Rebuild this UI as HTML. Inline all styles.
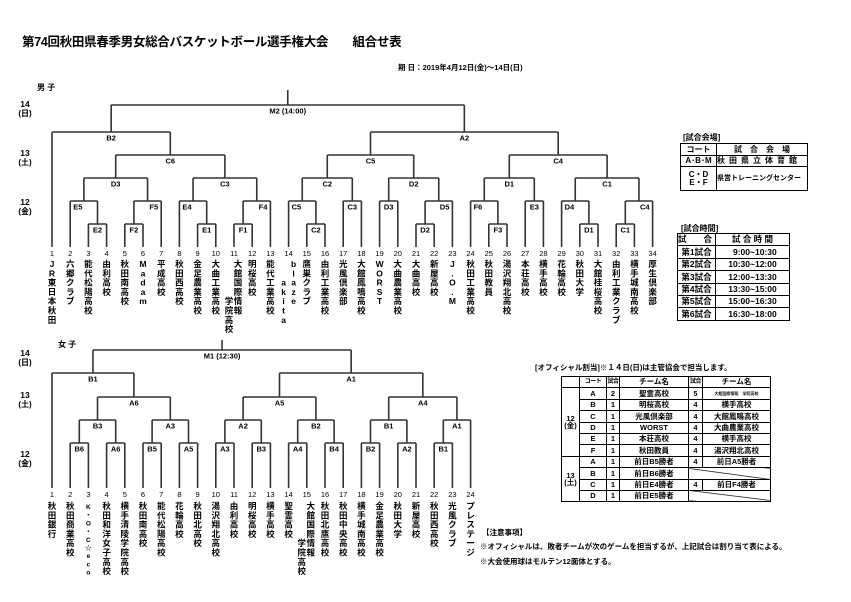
<!DOCTYPE html>
<html><head><meta charset="utf-8">
<style>
body{margin:0;background:#fff;}
#wrap{position:relative;width:851px;height:602px;overflow:hidden;font-family:"Liberation Sans","Noto Sans CJK JP",sans-serif;color:#000;}
.abs{position:absolute;white-space:nowrap;}
table{border-collapse:collapse;position:absolute;font-size:8px;font-weight:bold;table-layout:fixed;}
td{border:1px solid #000;padding:0;text-align:center;line-height:1;overflow:hidden;white-space:nowrap;}
.sm{font-size:6px;letter-spacing:-0.5px;}
.diag{background:linear-gradient(to top right,transparent calc(50% - 0.7px),#000 50%,transparent calc(50% + 0.7px));}
</style></head><body>
<div id="wrap">
<div class="abs" style="left:22px;top:31px;font-size:12.5px;font-weight:bold;letter-spacing:-0.3px;">第74回秋田県春季男女総合バスケットボール選手権大会　　組合せ表</div>
<div class="abs" style="left:398px;top:62px;font-size:7.5px;font-weight:bold;">期 日：2019年4月12日(金)～14日(日)</div>
<div class="abs" style="left:37px;top:82px;font-size:8px;font-weight:bold;">男 子</div>
<div class="abs" style="left:58px;top:339px;font-size:8px;font-weight:bold;">女 子</div>

<div class="abs" style="left:683px;top:132px;font-size:8px;font-weight:bold;">[試合会場]</div>
<table style="left:680px;top:143px;width:127px;">
<colgroup><col style="width:36px"><col style="width:91px"></colgroup>
<tr style="height:12px"><td>コート</td><td>試　合　会　場</td></tr>
<tr style="height:11px"><td>A･B･M</td><td style="text-align:left;letter-spacing:4px;">秋田県立体育館</td></tr>
<tr style="height:24px"><td>C・D<br>E・F</td><td style="text-align:left;font-size:7px;">県営トレーニングセンター</td></tr>
</table>

<div class="abs" style="left:681px;top:223px;font-size:8px;font-weight:bold;">[試合時間]</div>
<table style="left:677px;top:233px;width:112px;font-size:8.5px;">
<colgroup><col style="width:38px"><col style="width:74px"></colgroup>
<tr style="height:12.4px"><td style="text-align:left">試　　合</td><td>試 合 時 間</td></tr>
<tr style="height:12.4px"><td>第1試合</td><td>&nbsp;&nbsp;9:00~10:30</td></tr>
<tr style="height:12.4px"><td>第2試合</td><td>10:30~12:00</td></tr>
<tr style="height:12.4px"><td>第3試合</td><td>12:00~13:30</td></tr>
<tr style="height:12.4px"><td>第4試合</td><td>13:30~15:00</td></tr>
<tr style="height:12.4px"><td>第5試合</td><td>15:00~16:30</td></tr>
<tr style="height:12.4px"><td>第6試合</td><td>16:30~18:00</td></tr>
</table>

<div class="abs" style="left:535px;top:362px;font-size:7.5px;font-weight:bold;">[オフィシャル割当]※１４日(日)は主管協会で担当します。</div>
<table style="left:561px;top:376px;width:209px;font-size:7.5px;">
<colgroup><col style="width:18px"><col style="width:27px"><col style="width:13px"><col style="width:69px"><col style="width:14px"><col style="width:68px"></colgroup>
<tr style="height:11.4px"><td></td><td class="sm">コート</td><td class="sm">試合</td><td>チーム名</td><td class="sm">試合</td><td>チーム名</td></tr>
<tr style="height:11.4px"><td rowspan="6">12<br>(金)</td><td>A</td><td>2</td><td>聖霊高校</td><td>5</td><td style="font-size:4px">大館国際情報　学院高校</td></tr>
<tr style="height:11.4px"><td>B</td><td>1</td><td>明桜高校</td><td>4</td><td>横手高校</td></tr>
<tr style="height:11.4px"><td>C</td><td>1</td><td>光風倶楽部</td><td>4</td><td>大館鳳鳴高校</td></tr>
<tr style="height:11.4px"><td>D</td><td>1</td><td>WORST</td><td>4</td><td>大曲農業高校</td></tr>
<tr style="height:11.4px"><td>E</td><td>1</td><td>本荘高校</td><td>4</td><td>横手高校</td></tr>
<tr style="height:11.4px"><td>F</td><td>1</td><td>秋田教員</td><td>4</td><td>湯沢翔北高校</td></tr>
<tr style="height:11.4px"><td rowspan="4">13<br>(土)</td><td>A</td><td>1</td><td>前日B5勝者</td><td>4</td><td>前日A5勝者</td></tr>
<tr style="height:11.4px"><td>B</td><td>1</td><td>前日B6勝者</td><td colspan="2" class="diag"></td></tr>
<tr style="height:11.4px"><td>C</td><td>1</td><td>前日E4勝者</td><td>4</td><td>前日F4勝者</td></tr>
<tr style="height:11.4px"><td>D</td><td>1</td><td>前日E5勝者</td><td colspan="2" class="diag"></td></tr>
</table>

<div class="abs" style="left:482px;top:527px;font-size:7.5px;font-weight:bold;">【注意事項】</div>
<div class="abs" style="left:480px;top:541px;font-size:7.5px;font-weight:bold;">※オフィシャルは、敗者チームが次のゲームを担当するが、上記試合は割り当て表による。</div>
<div class="abs" style="left:480px;top:556px;font-size:7.5px;font-weight:bold;">※大会使用球はモルテン12面体とする。</div>

<svg id="sv" class="abs" style="left:0;top:0" width="851" height="602" xmlns="http://www.w3.org/2000/svg"></svg>
</div>
<script>
const sv=document.getElementById('sv');
const NS='http://www.w3.org/2000/svg';
function el(t,a,txt){const e=document.createElementNS(NS,t);for(const k in a)e.setAttribute(k,a[k]);if(txt!==undefined)e.textContent=txt;sv.appendChild(e);return e;}
function line(x1,y1,x2,y2){el('line',{x1,y1,x2,y2,stroke:'#333','stroke-width':1.6});}
function txt(x,y,s,o){o=o||{};el('text',Object.assign({x,y,'font-size':7.5,'font-weight':'bold','text-anchor':'middle','font-family':'"Liberation Sans","Noto Sans CJK JP",sans-serif'},o),s);}
const X=i=>52+(i-1)*18.2;
function M(n,y,a,b,lab){return {n,y,c:[a,b],lab:lab||'c'};}
function stem(nd){return typeof nd==='number'?X(nd):(stem(nd.c[0])+stem(nd.c[1]))/2;}
function draw(nd,py,leafB){
  if(typeof nd==='number'){line(X(nd),leafB,X(nd),py);return;}
  const a=stem(nd.c[0]),b=stem(nd.c[1]),s=(a+b)/2;
  line(a,nd.y,b,nd.y);
  draw(nd.c[0],nd.y,leafB);draw(nd.c[1],nd.y,leafB);
  if(py!==null)line(s,nd.y,s,py);
  if(nd.lab==='l')txt(a+3,nd.y+8.5,nd.n,{'text-anchor':'start'});
  else if(nd.lab==='r')txt(b-3,nd.y+8.5,nd.n,{'text-anchor':'end'});
  else txt(s,nd.y+8.5,nd.n);
}
const L1=201,L2=224;
const men=M('M2 (14:00)',105,
 M('B2',132,1,
  M('C6',155,
   M('D3',178,M('E5',L1,2,M('E2',L2,3,4),'l'),M('F5',L1,M('F2',L2,5,6),7,'r')),
   M('C3',178,M('E4',L1,8,M('E1',L2,9,10),'l'),M('F4',L1,M('F1',L2,11,12),13,'r')))),
 M('A2',132,
  M('C5',155,
   M('C2',178,M('C5',L1,14,M('C2',L2,15,16),'l'),M('C3',L1,17,18)),
   M('D2',178,M('D3',L1,19,20),M('D5',L1,M('D2',L2,21,22),23,'r'))),
  M('C4',155,
   M('D1',178,M('F6',L1,24,M('F3',L2,25,26),'l'),M('E3',L1,27,28)),
   M('C1',178,M('D4',L1,29,M('D1',L2,30,31),'l'),M('C4',L1,M('C1',L2,32,33),34,'r')))));
draw(men,null,247);
line(stem(men),90,stem(men),105);
const W=443,V=420;
const wom=M('M1 (12:30)',350,
 M('B1',373,1,
  M('A6',397,
   M('B3',V,M('B6',W,2,3),M('A6',W,4,5)),
   M('A3',V,M('B5',W,6,7),M('A5',W,8,9)))),
 M('A1',373,
  M('A5',397,
   M('A2',V,M('A3',W,10,11),M('B3',W,12,13)),
   M('B2',V,M('A4',W,14,15),M('B4',W,16,17))),
  M('A4',397,
   M('B1',V,M('B2',W,18,19),M('A2',W,20,21)),
   M('A1',V,M('B1',W,22,23),24))));
draw(wom,null,488);
line(stem(wom),340,stem(wom),350);
[[107,'14','(日)'],[156,'13','(土)'],[205,'12','(金)'],[356,'14','(日)'],[398,'13','(土)'],[457,'12','(金)']].forEach(d=>{txt(25,d[0],d[1],{'font-size':8.5});txt(25,d[0]+9,d[2],{'font-size':8});});
function names(list,numY,nameY){
  list.forEach((nm,i)=>{
    const n=i+1,x=X(n);
    txt(x,numY,String(n),{'font-size':7.5,'font-weight':'normal'});
    let cols=Array.isArray(nm)?nm:[{dx:0,k:0,t:nm}];
    cols.forEach(c=>{[...c.t].forEach((ch,j)=>{txt(x+c.dx,nameY+(c.k+j)*(c.sp||9.3),ch,{'font-size':c.fs||8.5});});});
  });
}
const gk=[{dx:4,k:0,t:'大館国際情報'},{dx:-5,k:4,t:'学院高校'}];
names(['JR東日本秋田','六郷クラブ','能代松陽高校','由利高校','秋田南高校','Madam','平成高校','秋田西高校','金足農業高校','大曲工業高校',gk,'明桜高校','能代工業高校',[{dx:5,k:0,t:'blaze'},{dx:-5,k:2,t:'akita'}],'鷹巣クラブ','由利工業高校','光風倶楽部','大館鳳鳴高校','WORST','大曲農業高校','大曲高校','新屋高校','J.O.M','秋田工業高校','秋田教員','湯沢翔北高校','本荘高校','横手高校','花輪高校','秋田大学','大館桂桜高校','由利工業クラブ','横手城南高校','厚生倶楽部'],256,267);
names(['秋田銀行','秋田商業高校',[{dx:0,k:0,t:'K・O・C☆eco',fs:6.5,sp:8.2}],'秋田和洋女子高校','横手清陵学院高校','秋田南高校','能代松陽高校','花輪高校','秋田北高校','湯沢翔北高校','由利高校','明桜高校','横手高校','聖霊高校',gk,'秋田北鷹高校','秋田中央高校','横手城南高校','金足農業高校','秋田大学','新屋高校','秋田西高校','光風クラブ','プレステージ'],497,509);
</script>
</body></html>
